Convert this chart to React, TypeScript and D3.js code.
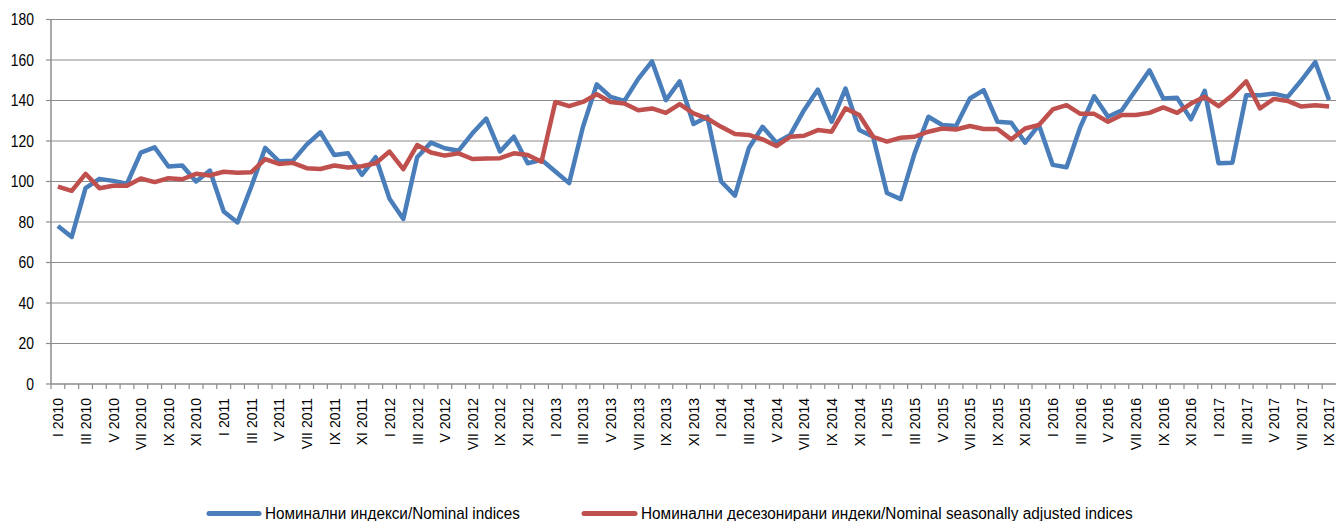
import { useMemo } from "react";
import * as d3 from "d3";

// monthly data, I 2010 .. IX 2017
const months = ["I", "II", "III", "IV", "V", "VI", "VII", "VIII", "IX", "X", "XI", "XII"];
const years = [2010, 2011, 2012, 2013, 2014, 2015, 2016, 2017];
const lastMonthCount = 9; // 2017 runs to IX

const nominal = [
  78, 72.6, 96.7, 101.3, 100.3, 98.9, 114.3, 116.9, 107.4, 107.9, 100, 105.4,
  85.2, 79.8, 97.5, 116.6, 110, 110.2, 118.2, 124.3, 113.1, 113.9, 103.3, 112,
  91.5, 81.5, 112, 119.2, 116.4, 115.2, 123.8, 131.1, 114.8, 122.1, 109, 110.7,
  104.9, 99.2, 127, 148, 141.8, 139.8, 150.7, 159.3, 140.2, 149.5, 128.4, 132,
  100, 93, 116.4, 127, 119.2, 123, 135.2, 145.4, 129.5, 145.9, 125.4, 122.1,
  94.3, 91.3, 113.9, 132, 127.9, 127.4, 141, 145.1, 129.5, 129, 119.2, 127.9,
  108.2, 107, 127, 142.1, 132, 135.2, 145.1, 154.9, 141, 141.3, 130.7, 144.8,
  109, 109.3, 142.6, 142.6, 143.4, 141.8, 150, 159, 140.2,
];

const seasonallyAdjusted = [
  97.5, 95.4, 103.8, 96.7, 97.9, 97.9, 101.5, 99.7, 101.6, 101.1, 103.8, 103,
  104.8, 104.3, 104.6, 111.1, 108.7, 109.2, 106.6, 106.2, 107.9, 106.9, 107.5, 109,
  114.8, 106.1, 118, 114.3, 112.8, 113.9, 111.1, 111.3, 111.5, 113.9, 113.1, 109.8,
  139.3, 137.2, 139.3, 143.1, 139.3, 138.5, 135.2, 136.1, 133.9, 138.2, 133.6, 131.1,
  127, 123.4, 123, 120.8, 117.5, 122.1, 122.6, 125.4, 124.6, 136.1, 132.8, 122.1,
  119.7, 121.6, 122.1, 124.6, 126.2, 125.7, 127.4, 125.9, 125.9, 120.8, 126.2, 127.9,
  135.6, 137.7, 133.4, 133.4, 129.5, 132.8, 132.8, 133.9, 136.6, 133.9, 138.5, 141.8,
  137.2, 142.6, 149.5, 136.1, 140.8, 139.8, 137, 137.7, 137,
];

const yTicks = [0, 20, 40, 60, 80, 100, 120, 140, 160, 180];

const seriesNames = [
  "Номинални индекси/Nominal indices",
  "Номинални десезонирани индеки/Nominal seasonally adjusted indices",
];

const categories: string[] = [];
years.forEach((y, yi) => {
  const n = yi === years.length - 1 ? lastMonthCount : 12;
  for (let m = 0; m < n; m++) categories.push(`${months[m]} ${y}`);
});

const width = 1336;
const height = 521;
const margin = { top: 19.5, right: 0, bottom: 137, left: 51 };
const font = "'Liberation Sans', Arial, sans-serif";
const blue = "#4a7ebb";
const red = "#c0504d";
const gridColor = "#8c8c8c";

const App = () => {
  const innerWidth = width - margin.left - margin.right;
  const plotBottom = height - margin.bottom;

  const xScale = useMemo(
    () => d3.scalePoint<string>().domain(categories).range([margin.left, margin.left + innerWidth]).padding(0.5),
    [innerWidth]
  );
  const yScale = d3.scaleLinear().domain([0, 180]).range([plotBottom, margin.top]);
  const step = xScale.step();

  const lineGen = d3
    .line<number>()
    .x((_, i) => xScale(categories[i])!)
    .y((d) => yScale(d));

  return (
    <svg
      width={width}
      height={height}
      style={{ position: "absolute", left: 0, top: 0, background: "#fff" }}
    >
      {/* gridlines */}
      {yTicks.filter((t) => t > 0).map((t) => (
        <line key={t} x1={margin.left} x2={width} y1={yScale(t)} y2={yScale(t)} stroke={gridColor} strokeWidth={1.2} />
      ))}
      {/* y axis */}
      <line x1={margin.left} x2={margin.left} y1={margin.top} y2={plotBottom} stroke={gridColor} strokeWidth={1.5} />
      {yTicks.map((t) => (
        <g key={t}>
          <line x1={margin.left - 5} x2={margin.left} y1={yScale(t)} y2={yScale(t)} stroke={gridColor} strokeWidth={1.2} />
          <text
            transform={`translate(34,${yScale(t)}) scale(0.82,1)`}
            dy="0.35em"
            textAnchor="end"
            fontFamily={font}
            fontSize={17}
            fill="#000"
          >
            {t}
          </text>
        </g>
      ))}
      {/* x axis */}
      <line x1={margin.left} x2={width} y1={plotBottom} y2={plotBottom} stroke={gridColor} strokeWidth={1.5} />
      {categories.map((c, i) => {
        const x = margin.left + step * i;
        return <line key={c} x1={x} x2={x} y1={plotBottom} y2={plotBottom + 5} stroke={gridColor} strokeWidth={1.2} />;
      })}
      {categories.map((c, i) =>
        i % 2 === 0 ? (
          <text
            key={c}
            transform={`translate(${xScale(c)! + 0.3},${plotBottom + 14}) rotate(-90)`}
            dy="0.36em"
            textAnchor="end"
            fontFamily={font}
            fontSize={14}
            fill="#000"
          >
            {c}
          </text>
        ) : null
      )}
      {/* series */}
      <path d={lineGen(nominal)!} fill="none" stroke={blue} strokeWidth={4.5} strokeLinejoin="round" />
      <path d={lineGen(seasonallyAdjusted)!} fill="none" stroke={red} strokeWidth={4.5} strokeLinejoin="round" />
      {/* legend */}
      <line x1={209} x2={259} y1={513.5} y2={513.5} stroke={blue} strokeWidth={5} strokeLinecap="round" />
      <text transform="translate(265,519) scale(0.955,1)" fontFamily={font} fontSize={16} fill="#000">{seriesNames[0]}</text>
      <line x1={584} x2={635} y1={513.5} y2={513.5} stroke={red} strokeWidth={5} strokeLinecap="round" />
      <text transform="translate(641,519) scale(0.96,1)" fontFamily={font} fontSize={16} fill="#000">{seriesNames[1]}</text>
    </svg>
  );
};

export default App;
